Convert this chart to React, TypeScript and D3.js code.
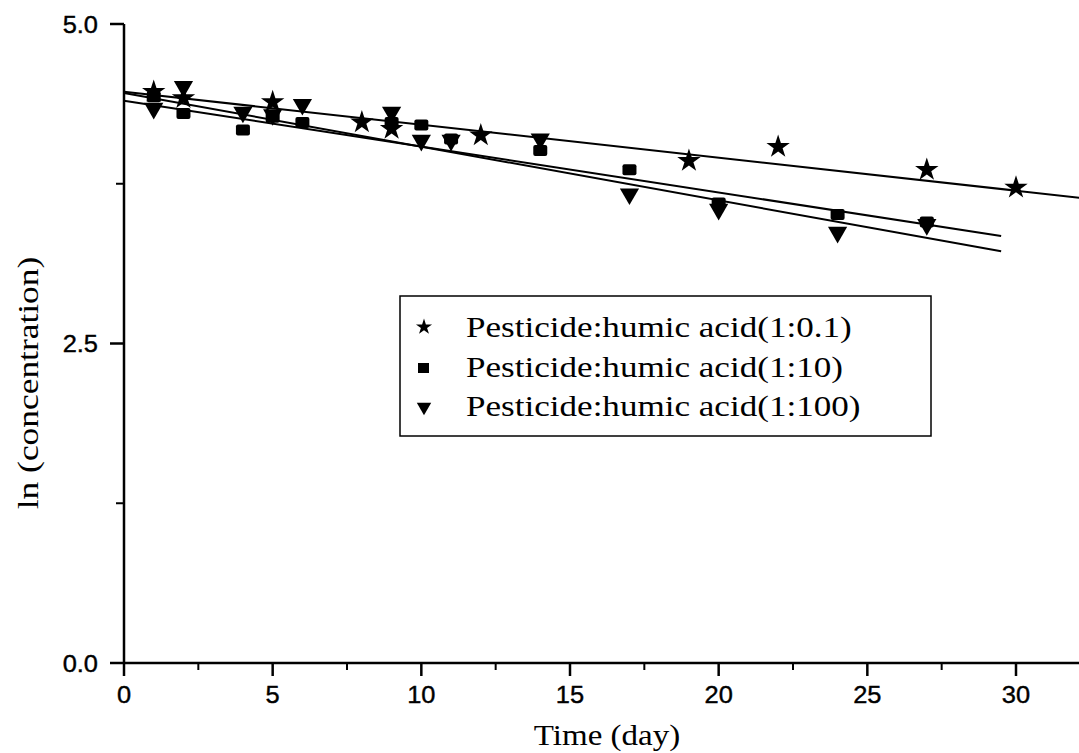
import React from "react";
import * as d3 from "d3";

const W = 1079;
const H = 753;

// Series 1: Pesticide:humic acid(1:0.1) (star)
const days01 = [1, 2, 5, 8, 9, 12, 19, 22, 27, 30];
const ln01 = [4.47, 4.42, 4.39, 4.23, 4.18, 4.13, 3.93, 4.04, 3.86, 3.72];
// Series 2: Pesticide:humic acid(1:10) (square)
const days10 = [1, 2, 4, 5, 6, 9, 10, 11, 14, 17, 20, 24, 27];
const ln10 = [4.43, 4.3, 4.17, 4.27, 4.23, 4.23, 4.21, 4.1, 4.01, 3.86, 3.6, 3.51, 3.45];
// Series 3: Pesticide:humic acid(1:100) (triangle down)
const days100 = [1, 2, 4, 5, 6, 9, 10, 11, 14, 17, 20, 24, 27];
const ln100 = [4.34, 4.51, 4.31, 4.29, 4.37, 4.31, 4.09, 4.09, 4.1, 3.67, 3.55, 3.37, 3.43];

// linear fits (intercept, slope, last day drawn)
const fitIntercept = [4.47, 4.4, 4.46];
const fitSlope = [-0.0258, -0.0359, -0.042];
const fitEnd = [32.2, 29.5, 29.5];

const legendLabels = [
  "Pesticide:humic acid(1:0.1)",
  "Pesticide:humic acid(1:10)",
  "Pesticide:humic acid(1:100)",
];

const xMajor = [0, 5, 10, 15, 20, 25, 30];
const xMinor = [2.5, 7.5, 12.5, 17.5, 22.5, 27.5];
const yMajor = [0, 2.5, 5];
const yMinor = [1.25, 3.75];

const x = d3.scaleLinear().domain([0, 30]).range([124, 1016]);
const y = d3.scaleLinear().domain([0, 5]).range([663, 24]);

const starPath = (s: number) => d3.symbol().type(d3.symbolStar).size(s)()!;
const triPath = (s: number) => d3.symbol().type(d3.symbolTriangle).size(s)()!;

const sans = "Arial, 'Liberation Sans', sans-serif";
const serif = "'Times New Roman', 'Liberation Serif', serif";

export default function App() {
  const series = [
    { days: days01, vals: ln01, kind: "star" },
    { days: days10, vals: ln10, kind: "square" },
    { days: days100, vals: ln100, kind: "tri" },
  ];
  const line = d3
    .line<number[]>()
    .x((d) => x(d[0]))
    .y((d) => y(d[1]));

  const marker = (kind: string, cx: number, cy: number, key: string) => {
    if (kind === "star")
      return <path key={key} d={starPath(170)} transform={`translate(${cx},${cy})`} fill="#000" />;
    if (kind === "square")
      return <rect key={key} x={cx - 7} y={cy - 5.5} width={14} height={11} rx={2} fill="#000" />;
    return <path key={key} d={triPath(160)} transform={`translate(${cx},${cy}) rotate(180)`} fill="#000" />;
  };

  return (
    <svg width={W} height={H} style={{ position: "absolute", left: 0, top: 0, background: "#fff" }}>
      <rect x={0} y={0} width={W} height={H} fill="#fff" />
      {fitIntercept.map((b, i) => (
        <path
          key={"fit" + i}
          d={line([[0, b], [fitEnd[i], b + fitSlope[i] * fitEnd[i]]])!}
          stroke="#000"
          strokeWidth={2}
          fill="none"
        />
      ))}
      {series.map((s, si) => s.days.map((d, i) => marker(s.kind, x(d), y(s.vals[i]), `p${si}-${i}`)))}
      <line x1={x(0)} x2={W} y1={y(0)} y2={y(0)} stroke="#000" strokeWidth={2.5} />
      <line x1={x(0)} x2={x(0)} y1={y(5)} y2={y(0)} stroke="#000" strokeWidth={2.5} />
      {xMajor.map((t) => (
        <g key={"xm" + t}>
          <line x1={x(t)} x2={x(t)} y1={y(0)} y2={y(0) + 13} stroke="#000" strokeWidth={2.5} />
          <text
            transform={`translate(${x(t)},${y(0) + 40}) scale(1.06,1)`}
            textAnchor="middle"
            fontFamily={sans}
            fontSize={24}
            stroke="#000"
            strokeWidth={0.4}
          >
            {t}
          </text>
        </g>
      ))}
      {xMinor.map((t) => (
        <line key={"xn" + t} x1={x(t)} x2={x(t)} y1={y(0)} y2={y(0) + 7} stroke="#000" strokeWidth={2} />
      ))}
      {yMajor.map((t) => (
        <g key={"ym" + t}>
          <line x1={x(0) - 14} x2={x(0)} y1={y(t)} y2={y(t)} stroke="#000" strokeWidth={2.5} />
          <text
            transform={`translate(${x(0) - 26},${y(t) + 8.5}) scale(1.06,1)`}
            textAnchor="end"
            fontFamily={sans}
            fontSize={24}
            stroke="#000"
            strokeWidth={0.4}
          >
            {t.toFixed(1)}
          </text>
        </g>
      ))}
      {yMinor.map((t) => (
        <line key={"yn" + t} x1={x(0) - 8} x2={x(0)} y1={y(t)} y2={y(t)} stroke="#000" strokeWidth={2} />
      ))}
      <text transform={`translate(607,745) scale(1.1,1)`} textAnchor="middle" fontFamily={serif} fontSize={30}>
        Time (day)
      </text>
      <text
        transform={`translate(38,383) rotate(-90) scale(1.18,1)`}
        textAnchor="middle"
        fontFamily={serif}
        fontSize={30}
      >
        ln (concentration)
      </text>
      <rect x={400} y={296} width={531} height={140} fill="#fff" stroke="#000" strokeWidth={1.5} />
      {legendLabels.map((lab, i) => {
        const by = [337, 377, 416][i];
        return (
          <g key={"lg" + i}>
            {i === 0 && <path d={starPath(80)} transform={`translate(424,${by - 10})`} fill="#000" />}
            {i === 1 && <rect x={418} y={by - 14} width={11} height={10} fill="#000" />}
            {i === 2 && <path d={triPath(90)} transform={`translate(424,${by - 9}) rotate(180)`} fill="#000" />}
            <text transform={`translate(466,${by}) scale(1.17,1)`} fontFamily={serif} fontSize={30}>
              {lab}
            </text>
          </g>
        );
      })}
    </svg>
  );
}
